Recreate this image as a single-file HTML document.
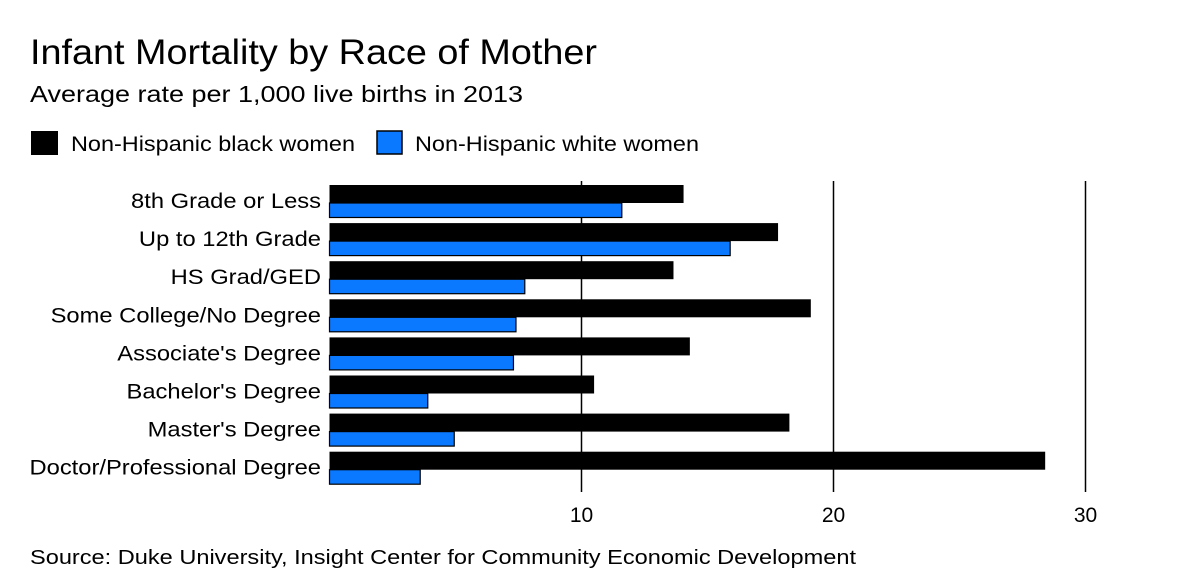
<!DOCTYPE html>
<html><head><meta charset="utf-8"><style>
body{margin:0;background:#fff;width:1200px;height:585px;overflow:hidden;font-family:"Liberation Sans",sans-serif;}
</style></head><body>
<svg width="1200" height="585" style="position:absolute;left:0;top:0">
<text x="30" y="64" font-size="35" textLength="567" lengthAdjust="spacingAndGlyphs" fill="#000">Infant Mortality by Race of Mother</text>
<text x="30" y="102" font-size="23" textLength="493" lengthAdjust="spacingAndGlyphs" fill="#000">Average rate per 1,000 live births in 2013</text>
<g><rect x="31" y="131" width="27" height="24" fill="#000"/><text x="71" y="151" font-size="21" textLength="284" lengthAdjust="spacingAndGlyphs">Non-Hispanic black women</text></g>
<g><rect x="377" y="131" width="25" height="23" fill="#0a78ff" stroke="#000" stroke-width="1.5"/><text x="415" y="151" font-size="21" textLength="284" lengthAdjust="spacingAndGlyphs">Non-Hispanic white women</text></g>
<g id="grid"></g><g id="bars"></g><g id="labels"></g><g id="ticks"></g>
<text x="30" y="564" font-size="20" textLength="826" lengthAdjust="spacingAndGlyphs" fill="#000">Source: Duke University, Insight Center for Community Economic Development</text>
</svg>
<script>
const categories=["8th Grade or Less","Up to 12th Grade","HS Grad/GED","Some College/No Degree","Associate's Degree","Bachelor's Degree","Master's Degree","Doctor/Professional Degree"];
const blackValues=[14.05,17.8,13.65,19.1,14.3,10.5,18.25,28.4];
const whiteValues=[11.6,15.9,7.75,7.4,7.3,3.9,4.95,3.6];
const tickValues=[10,20,30];
const NS="http://www.w3.org/2000/svg";
const x0=329.5,pxPer=25.2,rowTop=185,pitch=38.1;
const xs=v=>x0+v*pxPer;
function mk(tag,attrs,parent){const e=document.createElementNS(NS,tag);for(const k in attrs)e.setAttribute(k,attrs[k]);document.getElementById(parent).appendChild(e);return e;}
tickValues.forEach(t=>{
  const l=mk('line',{x1:xs(t),x2:xs(t),y1:181,y2:492,stroke:'#000','stroke-width':1.5},'grid');
  
  
  const tx=mk('text',{x:xs(t),y:522,'font-size':21,'text-anchor':'middle'},'ticks');
  tx.textContent=t;
  
  
});
categories.forEach((c,i)=>{
  const y=rowTop+i*pitch;
  const b=mk('rect',{x:x0,y:y,width:xs(blackValues[i])-x0,height:18,fill:'#000'},'bars');
  
  
  const w=mk('rect',{x:x0,y:y+18,width:xs(whiteValues[i])-x0,height:14.5,fill:'#0a78ff',stroke:'#000','stroke-width':1.2},'bars');
  
  
  const t=mk('text',{x:321,y:y+23,'font-size':21,'text-anchor':'end'},'labels');
  t.textContent=c;
  
  
  const len=t.getComputedTextLength();
  t.setAttribute('textLength',len*1.13);
  t.setAttribute('lengthAdjust','spacingAndGlyphs');
});
</script>
</body></html>
